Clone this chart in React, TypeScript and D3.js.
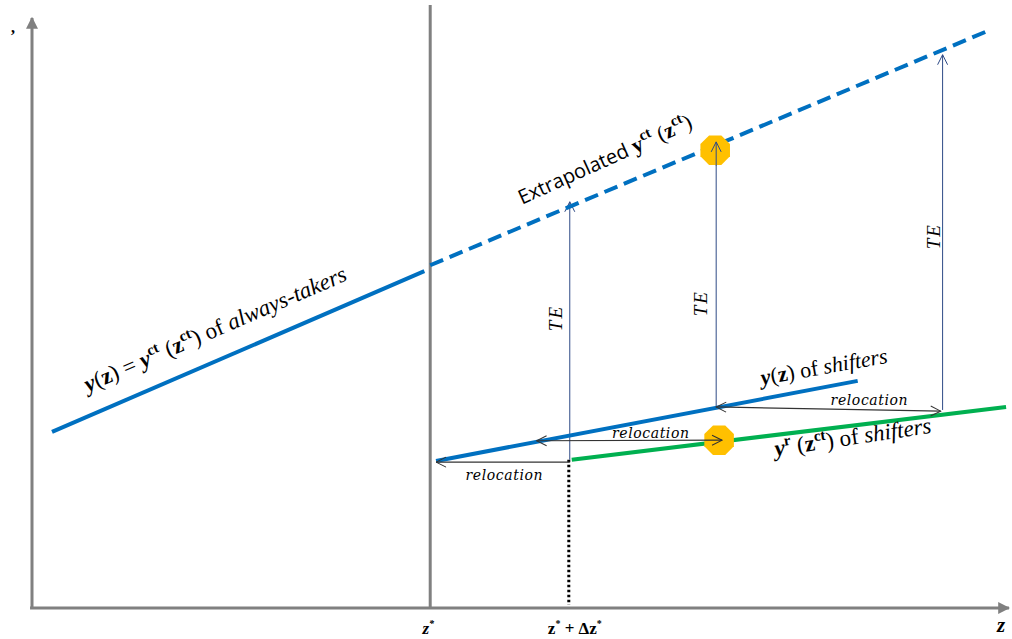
import React from "react";
import * as d3 from "d3";

// ---- data (abstract units: z on horizontal axis, y on vertical axis) ----
const zStar = 40.8;
const zShifted = 55.0;
const alwaysTakers: [number, number][] = [[2.05, 29.7], [40.2, 56.8]];
const extrapolated: [number, number][] = [[40.8, 57.8], [98.2, 97.5]];
const shiftersObserved: [number, number][] = [[41.4, 24.8], [84.6, 38.3]];
const shiftersCounterfactual: [number, number][] = [[55.3, 25.0], [99.8, 33.9]];
const teArrows = [
  { z: 55.1, from: 25.0, to: 68.5 },
  { z: 70.1, from: 33.9, to: 78.6 },
  { z: 93.3, from: 33.4, to: 93.3 },
];
const relocationArrows = [
  { from: [55.1, 24.6], to: [41.4, 24.6], both: false },
  { from: [51.7, 28.2], to: [70.7, 28.3], both: true },
  { from: [70.1, 33.9], to: [93.1, 33.2], both: true },
];
const octagons: [number, number][] = [[70.0, 77.2], [70.4, 28.3]];
const teLabels: [number, number][] = [[54.3, 48.9], [69.2, 51.4], [93.0, 62.7]];
const relocationLabels: [number, number][] = [[48.4, 21.6], [63.4, 28.7], [85.8, 34.2]];

const W = 1012;
const H = 639;
const BLUE = "#0070C0";
const GREEN = "#00B050";
const GRAY = "#808080";
const NAVY = "#2E4A86";
const SERIF = "'Liberation Serif', 'DejaVu Serif', serif";
const SANS = "'Open Sans', 'Liberation Sans', sans-serif";

export default function App() {
  const x = d3.scaleLinear().domain([0, 100]).range([32, 1008]);
  const y = d3.scaleLinear().domain([0, 100]).range([608, 15]);
  const line = d3
    .line<[number, number]>()
    .x((d) => x(d[0]))
    .y((d) => y(d[1]));
  const angle = (pts: [number, number][]) =>
    (Math.atan2(y(pts[1][1]) - y(pts[0][1]), x(pts[1][0]) - x(pts[0][0])) * 180) / Math.PI;

  const octagonPath = (c: [number, number], r: number) => {
    const pts = d3.range(8).map((i) => {
      const a = (i * Math.PI) / 4 + Math.PI / 8;
      return [x(c[0]) + r * Math.cos(a), y(c[1]) + r * Math.sin(a)] as [number, number];
    });
    return "M" + pts.map((p) => p.join(",")).join("L") + "Z";
  };

  const SUP = 15;
  const lbl1 = [x(5.74), y(36.4)];
  const lbl2 = [x(50.2), y(68.0)];
  const lbl3 = [x(74.8), y(37.6)];
  const lbl4 = [x(76.2), y(25.6)];

  return (
    <svg width={W} height={H} style={{ position: "absolute", left: 0, top: 0, background: "#fff" }}>
      <defs>
        <marker id="axisArrow" viewBox="0 0 10 10" refX="9" refY="5" markerWidth="4" markerHeight="4" orient="auto">
          <path d="M0,0 L10,5 L0,10 Z" fill={GRAY} />
        </marker>
        <marker id="teHead" viewBox="0 0 12 12" refX="11" refY="6" markerWidth="12" markerHeight="12" markerUnits="userSpaceOnUse" orient="auto-start-reverse">
          <path d="M1,1 L11,6 L1,11" fill="none" stroke={NAVY} strokeWidth="1" />
        </marker>
        <marker id="relHead" viewBox="0 0 12 12" refX="11" refY="6" markerWidth="12" markerHeight="12" markerUnits="userSpaceOnUse" orient="auto-start-reverse">
          <path d="M1,1 L11,6 L1,11" fill="none" stroke="#333" strokeWidth="1" />
        </marker>
      </defs>

      {/* axes */}
      <line x1={x(0)} y1={y(0)} x2={x(0)} y2={y(99.5)} stroke={GRAY} strokeWidth={3} markerEnd="url(#axisArrow)" />
      <line x1={x(-0.2)} y1={y(0)} x2={x(100.1)} y2={y(0)} stroke={GRAY} strokeWidth={3} markerEnd="url(#axisArrow)" />

      {/* z* vertical */}
      <line x1={x(zStar)} y1={y(0)} x2={x(zStar)} y2={y(101.7)} stroke={GRAY} strokeWidth={3} />

      {/* dotted vertical at z* + dz* */}
      <line x1={x(zShifted)} y1={y(25.0)} x2={x(zShifted)} y2={y(0.5)} stroke="#000" strokeWidth={3} strokeDasharray="2.5,2.5" />

      {/* TE arrows */}
      {teArrows.map((a, i) => (
        <line key={"te" + i} x1={x(a.z)} y1={y(a.from)} x2={x(a.z)} y2={y(a.to)} stroke={NAVY} strokeWidth={1} markerEnd="url(#teHead)" />
      ))}

      {/* lines */}
      <path d={line(alwaysTakers) || ""} stroke={BLUE} strokeWidth={4} fill="none" />
      <path d={line(extrapolated) || ""} stroke={BLUE} strokeWidth={4} fill="none" strokeDasharray="14,7" />
      <path d={line(shiftersObserved) || ""} stroke={BLUE} strokeWidth={4} fill="none" />
      <path d={line(shiftersCounterfactual) || ""} stroke={GREEN} strokeWidth={4} fill="none" />

      {/* octagons */}
      {octagons.map((c, i) => (
        <path key={"oc" + i} d={octagonPath(c, 16)} fill="#FFC000" />
      ))}

      {/* relocation arrows */}
      {relocationArrows.map((a, i) => (
        <line
          key={"rel" + i}
          x1={x(a.from[0])}
          y1={y(a.from[1])}
          x2={x(a.to[0])}
          y2={y(a.to[1])}
          stroke="#333"
          strokeWidth={1.2}
          markerEnd="url(#relHead)"
          markerStart={a.both ? "url(#relHead)" : undefined}
        />
      ))}
      {/* TE arrow head re-drawn above octagon */}
      <line x1={x(teArrows[1].z)} y1={y(teArrows[1].to - 4)} x2={x(teArrows[1].z)} y2={y(teArrows[1].to)} stroke={NAVY} strokeWidth={1} markerEnd="url(#teHead)" />

      {/* labels */}
      <text x={lbl1[0]} y={lbl1[1]} transform={`rotate(${angle(alwaysTakers)},${lbl1[0]},${lbl1[1]})`} fontFamily={SERIF} fontSize={23} fill="#000">
        <tspan fontWeight="bold" fontStyle="italic">y</tspan>
        <tspan>(</tspan>
        <tspan fontWeight="bold">z</tspan>
        <tspan>) = </tspan>
        <tspan fontWeight="bold" fontStyle="italic">y</tspan>
        <tspan dy={-9} fontSize={SUP} fontWeight="bold">ct</tspan>
        <tspan dy={9}>  (</tspan>
        <tspan fontWeight="bold">z</tspan>
        <tspan dy={-9} fontSize={SUP} fontWeight="bold">ct</tspan>
        <tspan dy={9}>) of </tspan>
        <tspan fontStyle="italic">always-takers</tspan>
      </text>

      <text x={lbl2[0]} y={lbl2[1]} transform={`rotate(${angle(extrapolated) - 1.5},${lbl2[0]},${lbl2[1]})`} fontSize={20} fill="#000">
        <tspan fontFamily={SANS}>Extrapolated </tspan>
        <tspan fontFamily={SERIF} fontWeight="bold" fontSize={22}>y</tspan>
        <tspan fontFamily={SERIF} fontWeight="bold" dy={-9} fontSize={SUP}>ct</tspan>
        <tspan fontFamily={SERIF} dy={9} fontSize={22}> (</tspan>
        <tspan fontFamily={SERIF} fontWeight="bold" fontSize={22}>z</tspan>
        <tspan fontFamily={SERIF} fontWeight="bold" dy={-9} fontSize={SUP}>ct</tspan>
        <tspan fontFamily={SERIF} dy={9} fontSize={22}>)</tspan>
      </text>

      <text x={lbl3[0]} y={lbl3[1]} transform={`rotate(-10,${lbl3[0]},${lbl3[1]})`} fontFamily={SERIF} fontSize={22} fill="#000">
        <tspan fontWeight="bold" fontStyle="italic">y</tspan>
        <tspan>(</tspan>
        <tspan fontWeight="bold">z</tspan>
        <tspan>) of </tspan>
        <tspan fontStyle="italic">shifters</tspan>
      </text>

      <text x={lbl4[0]} y={lbl4[1]} transform={`rotate(-8.5,${lbl4[0]},${lbl4[1]})`} fontFamily={SERIF} fontSize={23} fill="#000">
        <tspan fontWeight="bold" fontStyle="italic">y</tspan>
        <tspan dy={-9} fontSize={SUP} fontWeight="bold">r</tspan>
        <tspan dy={9}>  (</tspan>
        <tspan fontWeight="bold">z</tspan>
        <tspan dy={-9} fontSize={SUP} fontWeight="bold">ct</tspan>
        <tspan dy={9}>) of </tspan>
        <tspan fontStyle="italic">shifters</tspan>
      </text>

      {teLabels.map((p, i) => (
        <text key={"tel" + i} x={x(p[0])} y={y(p[1])} transform={`rotate(-90,${x(p[0])},${y(p[1])})`} textAnchor="middle" fontFamily={SERIF} fontStyle="italic" fontSize={19} letterSpacing={2} fill="#000">
          TE
        </text>
      ))}

      {relocationLabels.map((p, i) => (
        <text key={"rl" + i} x={x(p[0])} y={y(p[1])} textAnchor="middle" fontFamily="'DejaVu Serif', serif" fontStyle="italic" fontSize={14} letterSpacing={0.6} fill="#000">
          relocation
        </text>
      ))}

      {/* axis labels */}
      <text x={x(zStar) - 2} y={y(0) + 26} textAnchor="middle" fontFamily={SERIF} fontWeight="bold" fontStyle="italic" fontSize={17} fill="#000">
        z<tspan dy={-7} fontSize={10}>*</tspan>
      </text>
      <text x={x(zShifted) + 6} y={y(0) + 26} textAnchor="middle" fontFamily={SERIF} fontWeight="bold" fontSize={17} fill="#000">
        z<tspan dy={-7} fontSize={10}>*</tspan>
        <tspan dy={7}> + Δz</tspan>
        <tspan dy={-7} fontSize={10}>*</tspan>
      </text>
      <text x={x(99.3)} y={y(0) + 24} textAnchor="middle" fontFamily={SERIF} fontWeight="bold" fontStyle="italic" fontSize={21} fill="#000">
        z
      </text>
      <text x={11} y={33} fontFamily={SERIF} fontWeight="bold" fontSize={16} fill="#000">,</text>
    </svg>
  );
}
